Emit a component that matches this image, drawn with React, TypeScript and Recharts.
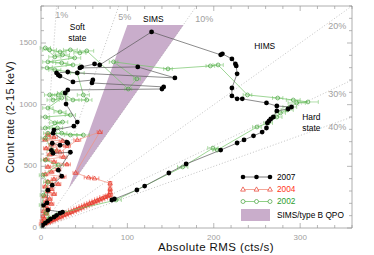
import React from "react"
import {
  ComposedChart,
  XAxis,
  YAxis,
  Scatter,
  Area,
  ErrorBar,
  ReferenceLine,
  ReferenceDot,
} from "recharts"

// absolute rms (cts/s), count rate (2-15 keV)
const obs2007: [number, number][] = [
  [82, 227], [85, 235], [111, 308], [120, 340], [148, 446], [168, 519], [208, 632],
  [227, 689], [235, 714], [246, 747], [256, 778], [261, 811], [262, 852], [264, 868],
  [266, 884], [269, 900], [273, 949], [286, 965], [290, 981], [273, 989], [261, 1014],
  [233, 1047], [227, 1047], [221, 1071], [221, 1135], [227, 1250], [226, 1314],
  [225, 1330], [221, 1371], [210, 1412], [208, 1404], [128, 1590], [68, 1322],
  [62, 1330], [47, 1306], [45, 1298], [112, 1306], [155, 1217], [42, 1257], [31, 1265],
  [18, 1257], [20, 1240], [22, 1232], [37, 1184], [60, 1200], [59, 1176], [142, 1144],
  [140, 1127], [31, 1119], [28, 1095], [29, 1005], [42, 859], [38, 826], [15, 794],
  [14, 769], [30, 696], [31, 687], [22, 671], [13, 687], [12, 630], [14, 606], [34, 614],
  [20, 469], [24, 420], [13, 347], [8, 307], [7, 203], [3, 186], [8, 145], [25, 129],
  [22, 121], [18, 103], [15, 88], [11, 72], [8, 56], [5, 40], [2, 24], [0.5, 8],
]

// rms, rate, rms error
const obs2002: [number, number, number][] = [
  [1, 10, 2], [5, 45, 3], [10, 70, 3], [16, 95, 3], [22, 120, 4], [87, 227, 6],
  [164, 495, 6], [199, 648, 6], [204, 632, 5], [250, 819, 5], [263, 852, 5], [273, 900, 6],
  [277, 933, 6], [285, 957, 7], [288, 981, 8], [296, 1014, 10], [309, 1022, 12],
  [292, 1038, 8], [274, 1054, 6], [239, 1079, 5], [205, 1322, 6], [196, 1314, 5],
  [147, 1290, 5], [84, 1347, 5], [111, 1209, 4], [101, 1127, 4],
  [53, 1436, 8], [45, 1420, 7], [34, 1444, 8], [22, 1428, 7], [10, 1444, 8], [5, 1460, 6],
  [16, 1387, 7], [25, 1404, 8], [39, 1379, 7], [8, 1347, 6], [24, 1338, 7], [37, 1322, 8],
  [7, 1298, 6], [16, 1282, 7], [42, 1257, 8], [49, 1079, 7], [53, 1038, 6], [37, 1038, 7],
  [25, 1095, 6], [20, 1079, 7], [10, 1079, 6], [14, 1038, 7], [24, 1054, 6], [8, 973, 6],
  [22, 941, 7], [34, 916, 6], [5, 900, 5], [16, 852, 6], [25, 859, 6], [5, 811, 5],
  [19, 811, 6], [24, 769, 6], [34, 754, 7], [49, 754, 7], [8, 769, 5], [5, 729, 5],
  [13, 630, 6], [5, 551, 5], [20, 510, 6], [2, 428, 4], [8, 371, 5], [3, 267, 4],
  [1, 186, 3], [6, 121, 3], [10, 80, 3],
]

// rms, rate, rms error, rate error
const obs2004: [number, number, number, number][] = [
  [2, 30, 4, 6], [4, 37, 4, 6], [6, 41, 5, 6], [8, 50, 5, 6], [10, 53, 5, 6], [12, 62, 5, 6],
  [14, 66, 5, 6], [16, 75, 6, 6], [18, 78, 6, 6], [20, 87, 6, 6], [23, 94, 6, 6],
  [26, 104, 6, 6], [29, 111, 6, 6], [32, 123, 6, 6], [35, 130, 6, 6], [38, 141, 6, 6],
  [41, 148, 6, 6], [44, 159, 6, 6], [47, 166, 6, 6], [50, 178, 6, 6], [53, 185, 6, 6],
  [56, 196, 6, 6], [59, 203, 6, 6], [62, 214, 6, 6], [65, 221, 6, 6], [68, 232, 6, 6],
  [71, 240, 6, 6], [74, 251, 6, 6], [77, 258, 5, 6], [79, 266, 4, 6],
  [80, 292, 2, 18], [80, 318, 2, 22], [80, 362, 2, 15], [62, 402, 5, 0], [55, 410, 5, 0],
  [40, 447, 3, 0], [68, 778, 3, 0], [42, 714, 4, 0], [22, 614, 4, 0],
  [8, 756, 3, 8], [15, 736, 4, 8], [5, 716, 3, 8], [25, 706, 4, 8], [12, 676, 3, 8],
  [30, 666, 4, 8], [6, 646, 3, 8], [18, 626, 4, 8], [10, 596, 3, 8], [26, 576, 4, 8],
  [6, 556, 3, 8], [15, 536, 3, 8], [30, 516, 4, 8], [8, 496, 3, 8], [20, 476, 3, 8],
  [12, 456, 3, 8], [5, 436, 3, 8], [25, 416, 4, 8], [15, 396, 3, 8], [8, 376, 3, 8],
  [20, 356, 3, 8], [5, 336, 3, 8], [12, 316, 3, 8], [8, 296, 3, 8], [15, 276, 3, 8],
  [4, 256, 3, 8], [10, 236, 3, 8], [6, 216, 3, 8], [12, 196, 3, 8], [4, 176, 3, 8],
  [8, 156, 3, 8], [3, 136, 3, 8], [6, 116, 3, 8], [2, 96, 2, 6], [4, 76, 2, 6],
  [1, 56, 2, 6], [2, 36, 2, 6],
]

// SIMS / type B QPO wedge: rms with lower and upper rate edge
const simsWedge = [
  { x: 32, lo: 320, hi: 320 },
  { x: 100, lo: 998, hi: 1646 },
  { x: 165, lo: 1646, hi: 1646 },
]

const fracRms = [0.01, 0.05, 0.1, 0.2, 0.3, 0.4]
const fracLabels = [
  { x: 24, y: 1727, text: "1%" },
  { x: 97, y: 1711, text: "5%" },
  { x: 189, y: 1695, text: "10%" },
  { x: 343, y: 1638, text: "20%" },
  { x: 343, y: 1087, text: "30%" },
  { x: 343, y: 819, text: "40%" },
]
const stateLabels = [
  { x: 130, y: 1695, text: "SIMS" },
  { x: 42, y: 1630, text: "Soft" },
  { x: 42, y: 1541, text: "state" },
  { x: 259, y: 1476, text: "HIMS" },
  { x: 313, y: 900, text: "Hard" },
  { x: 313, y: 811, text: "state" },
]

const X_MAX = 360
const Y_MAX = 1800
const xTicks = Array.from({ length: 19 }, (_, i) => i * 20)
const yTicks = Array.from({ length: 19 }, (_, i) => i * 100)

const FONT = "'Liberation Sans', Arial, sans-serif"
const AXIS = "#9a9a9a"
const GAP = 4

const d2007 = obs2007.map(([x, y]) => ({ x, y }))
const d2002 = obs2002.map(([x, y, ex]) => ({ x, y, ex }))
const d2004 = obs2004.map(([x, y, ex, ey]) => ({ x, y, ex, ey }))

const fracSegments = fracRms.map((f) =>
  f * Y_MAX <= X_MAX
    ? [{ x: 0, y: 0 }, { x: f * Y_MAX, y: Y_MAX }]
    : [{ x: 0, y: 0 }, { x: X_MAX, y: X_MAX / f }]
)

const bottomTick = (p: any) => {
  const base = p.y - GAP
  const major = p.payload.value % 100 === 0
  return (
    <g key={`b${p.payload.value}`}>
      <line x1={p.x} x2={p.x} y1={base} y2={base - (major ? 5 : 3)} stroke={AXIS} strokeWidth={0.7} />
      {major && (
        <text x={p.x} y={base + 11.5} textAnchor="middle" fontSize={8} fill="#a0a0a0" fontFamily={FONT}>
          {p.payload.value}
        </text>
      )}
    </g>
  )
}
const topTick = (p: any) => {
  const base = p.y + GAP
  const major = p.payload.value % 100 === 0
  return (
    <line key={`t${p.payload.value}`} x1={p.x} x2={p.x} y1={base} y2={base + (major ? 5 : 3)} stroke={AXIS} strokeWidth={0.7} />
  )
}
const leftTick = (p: any) => {
  const base = p.x + GAP
  const major = p.payload.value % 500 === 0
  return (
    <g key={`l${p.payload.value}`}>
      <line x1={base} x2={base + (major ? 5 : 3)} y1={p.y} y2={p.y} stroke={AXIS} strokeWidth={0.7} />
      {major && (
        <text x={base - 4} y={p.y + 2} textAnchor="end" fontSize={8} fill="#a0a0a0" fontFamily={FONT}>
          {p.payload.value}
        </text>
      )}
    </g>
  )
}
const rightTick = (p: any) => {
  const base = p.x - GAP
  const major = p.payload.value % 500 === 0
  return (
    <line key={`r${p.payload.value}`} x1={base} x2={base - (major ? 5 : 3)} y1={p.y} y2={p.y} stroke={AXIS} strokeWidth={0.7} />
  )
}

const dot2007 = (p: any) => <circle cx={p.cx} cy={p.cy} r={2.4} fill="#000" />
const tri2004 = (p: any) => (
  <path
    d={`M${p.cx},${p.cy - 2.4}L${p.cx + 2.2},${p.cy + 1.5}L${p.cx - 2.2},${p.cy + 1.5}Z`}
    fill="none"
    stroke="#e5352a"
    strokeWidth={0.7}
  />
)
const ring2002 = (p: any) => (
  <circle cx={p.cx} cy={p.cy} r={1.9} fill="none" stroke="#45a03c" strokeWidth={0.7} />
)

const labelShape = (text: string, color: string, size: number) => (p: any) => (
  <text x={p.cx} y={p.cy} dy="0.35em" textAnchor="middle" fontSize={size} fill={color} fontFamily={FONT}>
    {text}
  </text>
)

export default function App() {
  return (
    <div style={{ position: "absolute", left: 0, top: 0, width: 374, height: 255, background: "#fff" }}>
      <ComposedChart width={374} height={255} margin={{ top: 5, right: 21, bottom: 0, left: 0 }}>
        <XAxis
          xAxisId="b"
          dataKey="x"
          type="number"
          domain={[0, X_MAX]}
          ticks={xTicks}
          interval={0}
          tick={bottomTick}
          tickLine={false}
          tickSize={0}
          tickMargin={GAP}
          height={27}
          axisLine={{ stroke: AXIS, strokeWidth: 0.8 }}
          allowDataOverflow
        />
        <XAxis
          xAxisId="t"
          orientation="top"
          dataKey="x"
          type="number"
          domain={[0, X_MAX]}
          ticks={xTicks}
          interval={0}
          tick={topTick}
          tickLine={false}
          tickSize={0}
          tickMargin={GAP}
          height={1}
          axisLine={{ stroke: AXIS, strokeWidth: 0.8 }}
          allowDataOverflow
        />
        <YAxis
          yAxisId="l"
          type="number"
          domain={[0, Y_MAX]}
          ticks={yTicks}
          interval={0}
          tick={leftTick}
          tickLine={false}
          tickSize={0}
          tickMargin={GAP}
          width={41}
          axisLine={{ stroke: AXIS, strokeWidth: 0.8 }}
          allowDataOverflow
        />
        <YAxis
          yAxisId="r"
          orientation="right"
          type="number"
          domain={[0, Y_MAX]}
          ticks={yTicks}
          interval={0}
          tick={rightTick}
          tickLine={false}
          tickSize={0}
          tickMargin={GAP}
          width={1}
          axisLine={{ stroke: AXIS, strokeWidth: 0.8 }}
          allowDataOverflow
        />

        <Area
          xAxisId="b"
          yAxisId="l"
          data={simsWedge}
          dataKey={(d: any) => [d.lo, d.hi]}
          type="linear"
          stroke="none"
          fill="#c9adcb"
          fillOpacity={1}
          isAnimationActive={false}
          dot={false}
          activeDot={false}
        />

        {fracSegments.map((seg, i) => (
          <ReferenceLine
            key={`f${i}`}
            xAxisId="b"
            yAxisId="l"
            segment={seg}
            stroke="#a8a8a8"
            strokeWidth={0.7}
            strokeDasharray="1 2"
            ifOverflow="visible"
          />
        ))}

        <Scatter
          xAxisId="b"
          yAxisId="l"
          data={d2004}
          dataKey="y"
          line={{ stroke: "#f0907f", strokeWidth: 0.7 }}
          lineType="joint"
          shape={tri2004}
          isAnimationActive={false}
        >
          <ErrorBar dataKey="ex" direction="x" width={2} stroke="#ee5a4a" strokeWidth={0.6} />
          <ErrorBar dataKey="ey" direction="y" width={2} stroke="#ee5a4a" strokeWidth={0.6} />
        </Scatter>

        <Scatter
          xAxisId="b"
          yAxisId="l"
          data={d2002}
          dataKey="y"
          line={{ stroke: "#74c468", strokeWidth: 0.7 }}
          lineType="joint"
          shape={ring2002}
          isAnimationActive={false}
        >
          <ErrorBar dataKey="ex" direction="x" width={2} stroke="#80c874" strokeWidth={0.6} />
        </Scatter>

        <Scatter
          xAxisId="b"
          yAxisId="l"
          data={d2007}
          dataKey="y"
          line={{ stroke: "#5a5a5a", strokeWidth: 0.7 }}
          lineType="joint"
          shape={dot2007}
          isAnimationActive={false}
        />

        {fracLabels.map((l) => (
          <ReferenceDot
            key={l.text}
            xAxisId="b"
            yAxisId="l"
            x={l.x}
            y={l.y}
            r={0}
            shape={labelShape(l.text, "#a0a0a0", 9)}
          />
        ))}
        {stateLabels.map((l, i) => (
          <ReferenceDot
            key={`s${i}`}
            xAxisId="b"
            yAxisId="l"
            x={l.x}
            y={l.y}
            r={0}
            shape={labelShape(l.text, "#000", 8.4)}
          />
        ))}
      </ComposedChart>

      <svg
        width={374}
        height={255}
        style={{ position: "absolute", left: 0, top: 0, pointerEvents: "none" }}
        fontFamily={FONT}
      >
        <text x={216} y={247} dy="0.35em" textAnchor="middle" fontSize={11.5} letterSpacing={0.4} fill="#111">
          Absolute RMS (cts/s)
        </text>
        <text
          x={10}
          y={117}
          dy="0.35em"
          textAnchor="middle"
          fontSize={11}
          letterSpacing={0.3}
          fill="#111"
          transform="rotate(-90 10 117)"
        >
          Count rate (2-15 keV)
        </text>

        <g>
          <line x1={242} x2={270} y1={177} y2={177} stroke="#555" strokeWidth={0.8} />
          {[243, 256.5, 270].map((cx) => (
            <circle key={cx} cx={cx} cy={177} r={2.3} fill="#000" />
          ))}
          <text x={277} y={177} dy="0.35em" fontSize={8.3} fill="#000">2007</text>

          <line x1={242} x2={270} y1={189.5} y2={189.5} stroke="#f0907f" strokeWidth={0.8} />
          {[243, 256.5, 270].map((cx) => (
            <path
              key={cx}
              d={`M${cx},${189.5 - 2.6}L${cx + 2.4},${189.5 + 1.6}L${cx - 2.4},${189.5 + 1.6}Z`}
              fill="#fff"
              stroke="#e8392b"
              strokeWidth={0.7}
            />
          ))}
          <text x={277} y={189.5} dy="0.35em" fontSize={8.3} fill="#ff3520">2004</text>

          <line x1={242} x2={270} y1={201.5} y2={201.5} stroke="#74c468" strokeWidth={0.8} />
          {[243, 256.5, 270].map((cx) => (
            <circle key={cx} cx={cx} cy={201.5} r={2} fill="#fff" stroke="#45a03c" strokeWidth={0.7} />
          ))}
          <text x={277} y={201.5} dy="0.35em" fontSize={8.3} fill="#2e9e2e">2002</text>

          <rect x={241} y={209} width={29} height={12} fill="#c9adcb" />
          <text x={277} y={215} dy="0.35em" fontSize={8.3} fill="#000">SIMS/type B QPO</text>
        </g>
      </svg>
    </div>
  )
}
